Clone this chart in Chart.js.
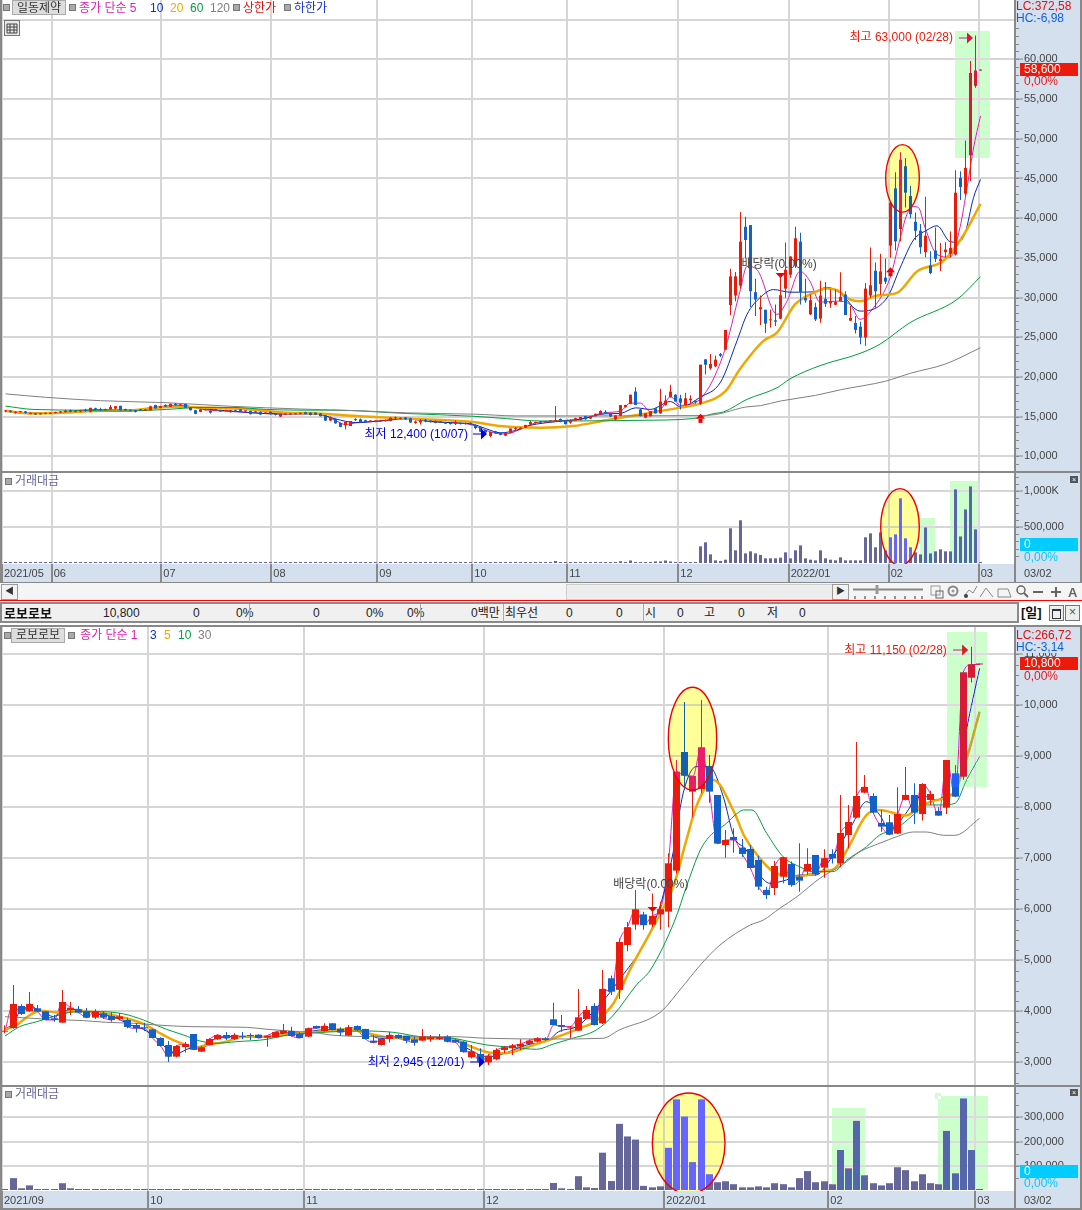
<!DOCTYPE html>
<html lang="ko">
<head>
<meta charset="utf-8">
<title>일동제약 / 로보로보</title>
<script src="https://cdn.jsdelivr.net/npm/chart.js@4/dist/chart.umd.min.js"></script>
<style>
html,body{margin:0;padding:0;background:#fff;width:1082px;height:1210px;overflow:hidden}
body{position:relative;font:12px "Liberation Sans","Noto Sans CJK KR",sans-serif;color:#333}
canvas{position:absolute;left:0;z-index:1}
.a{position:absolute;z-index:2;white-space:nowrap;line-height:13px}
.b{position:absolute;z-index:0}
.sq{position:absolute;z-index:2;width:5px;height:5px;background:#aaa;border:1px solid #777}
.btn{position:absolute;z-index:2;background:#ddd;border:1px solid #aaa;text-align:center;line-height:13px;height:13px;box-sizing:content-box}
.l{position:absolute;z-index:3;background:#888}
.x{position:absolute;z-index:3;width:8px;height:7px;background:#555;color:#fff;font-size:7px;line-height:7px;text-align:center}
</style>
</head>
<body>
<!-- backgrounds -->
<div class="b" style="left:1015px;top:0;width:66px;height:583px;background:#d5e0ee"></div>
<div class="b" style="left:0;top:564px;width:1081px;height:19px;background:#d5e0ee"></div>
<div class="b" style="left:1015px;top:626px;width:66px;height:583px;background:#d5e0ee"></div>
<div class="b" style="left:0;top:1191px;width:1081px;height:18px;background:#d5e0ee"></div>

<canvas id="cPriceTop" width="1082" height="473" style="top:0"></canvas>
<canvas id="cVolTop" width="1082" height="110" style="top:473px"></canvas>
<canvas id="cPriceBot" width="1082" height="459" style="top:626px"></canvas>
<canvas id="cVolBot" width="1082" height="122" style="top:1086px"></canvas>

<!-- frame lines -->
<div class="l" style="left:0;top:0;width:2px;height:583px"></div>
<div class="l" style="left:1080px;top:0;width:2px;height:583px"></div>
<div class="l" style="left:0;top:471px;width:1082px;height:2px"></div>
<div class="l" style="left:0;top:582px;width:1082px;height:1px"></div>
<div class="l" style="left:1014px;top:564px;width:2px;height:19px"></div>
<div class="l" style="left:0;top:625px;width:1082px;height:2px"></div>
<div class="l" style="left:0;top:625px;width:2px;height:585px"></div>
<div class="l" style="left:1080px;top:625px;width:2px;height:585px"></div>
<div class="l" style="left:0;top:1085px;width:1082px;height:2px"></div>
<div class="l" style="left:0;top:1208px;width:1082px;height:2px"></div>
<div class="l" style="left:1014px;top:1191px;width:2px;height:18px"></div>

<!-- legend top -->
<span class="sq" style="left:3px;top:4px"></span>
<span class="btn" style="left:12px;top:0;width:52px;line-height:14px">일동제약</span>
<span class="sq" style="left:69px;top:4px"></span>
<span class="a" style="left:79px;top:2px;color:#e020b0">종가 단순 5</span>
<span class="a" style="left:150px;top:2px;color:#0830c8">10</span>
<span class="a" style="left:170px;top:2px;color:#f0a800">20</span>
<span class="a" style="left:190px;top:2px;color:#00a040">60</span>
<span class="a" style="left:210px;top:2px;color:#808080">120</span>
<span class="sq" style="left:233px;top:4px"></span>
<span class="a" style="left:243px;top:2px;color:#e01010">상한가</span>
<span class="sq" style="left:284px;top:4px"></span>
<span class="a" style="left:294px;top:2px;color:#1030d0">하한가</span>
<svg class="a" style="left:4px;top:20px" width="16" height="16"><rect x="0.5" y="0.5" width="15" height="15" fill="#e8e8e8" stroke="#777"/><path d="M3 4h10M3 7h10M3 10h10M3 13h10M3 4v9M6 4v9M10 4v9M13 4v9" stroke="#444" fill="none"/></svg>

<!-- right labels top -->
<div class="a" style="left:1016px;top:0;width:63px;height:12px;background:#d5e0ee;color:#e01010">LC:372,58</div>
<div class="a" style="left:1016px;top:12px;width:63px;height:14px;background:#d5e0ee;color:#1060d8">HC:-6,98</div>
<div class="a" style="left:1020px;top:63px;width:58px;height:13px;background:#eb1a0a;color:#fff;text-indent:4px">58,600</div>
<div class="a" style="left:1024px;top:75px;color:#e81818">0,00%</div>
<div class="x" style="left:1070px;top:476px">×</div>
<div class="a" style="left:1020px;top:538px;width:58px;height:13px;background:#00ccff;color:#fff;text-indent:4px">0</div>
<div class="a" style="left:1024px;top:551px;color:#00c8ff">0,00%</div>
<div class="a" style="left:1024px;top:567px;color:#444;font-size:11px">03/02</div>
<span class="sq" style="left:5px;top:478px"></span>
<span class="a" style="left:15px;top:475px;color:#666699">거래대금</span>

<!-- scroll / tool row -->
<div class="b" style="left:0;top:583px;width:1082px;height:17px;background:#f5f5f5"></div>
<div class="a" style="left:1px;top:584px;width:15px;height:14px;background:#f2f2f2;border:1px solid #999;text-align:center;font-size:9px">◀</div>
<div class="a" style="left:566px;top:584px;width:265px;height:14px;background:#ededed;border:1px solid #ccc"></div>
<div class="a" style="left:832px;top:584px;width:15px;height:14px;background:#f2f2f2;border:1px solid #999;text-align:center;font-size:9px">▶</div>
<svg class="a" style="left:852px;top:584px" width="230" height="16">
 <path d="M1 5.5H71" stroke="#888" stroke-width="2"/><path d="M25 1v9" stroke="#999" stroke-width="3"/>
 <path d="M3 12v3M13 12v3M23 12v3M33 12v3M43 12v3M53 12v3M63 12v3M70 12v3" stroke="#333"/>
 <rect x="79" y="2" width="9" height="9" fill="none" stroke="#999"/><rect x="84" y="7" width="7" height="7" fill="none" stroke="#666"/>
 <circle cx="101" cy="7" r="4.5" fill="none" stroke="#888" stroke-width="2"/><circle cx="101" cy="7" r="1.5" fill="#999"/>
 <path d="M112 12l5-6 4 3 4-7" fill="none" stroke="#888"/><circle cx="114" cy="12" r="2" fill="#444"/>
 <path d="M128 13l6-9 7 9" fill="none" stroke="#888"/><path d="M146 5h10l3 8h-13z" fill="none" stroke="#888"/>
 <circle cx="169" cy="6" r="4" fill="none" stroke="#666" stroke-width="1.5"/><path d="M172 9l4 4" stroke="#666" stroke-width="2"/>
 <path d="M181 8h10" stroke="#666" stroke-width="2"/><path d="M199 8h10M204 3v10" stroke="#666" stroke-width="2"/>
</svg>
<div class="a" style="left:1068px;top:586px;color:#666;font-weight:bold;font-size:13px">A</div>
<div class="a" style="left:0;top:600px;width:1082px;height:1px;background:#f00"></div>

<!-- quote row -->
<div class="b" style="left:0;top:602px;width:1019px;height:21px;background:#f0f0f0;border:2px solid #8a8a8a;box-sizing:border-box"></div>
<span class="a" style="left:4px;top:607px;font-weight:bold;font-size:13px;color:#111">로보로보</span>
<span class="a" style="left:103px;top:607px;color:#222">10,800</span>
<span class="a" style="left:193px;top:607px;color:#222">0</span>
<span class="a" style="left:236px;top:607px;color:#222">0%</span>
<span class="a" style="left:313px;top:607px;color:#222">0</span>
<span class="a" style="left:366px;top:607px;color:#222">0%</span>
<span class="a" style="left:407px;top:607px;color:#222">0%</span>
<span class="a" style="left:471px;top:607px;color:#222">0백만</span>
<span class="a" style="left:505px;top:607px;color:#222">최우선</span>
<span class="a" style="left:566px;top:607px;color:#222">0</span>
<span class="a" style="left:616px;top:607px;color:#222">0</span>
<span class="a" style="left:645px;top:607px;color:#222">시</span>
<span class="a" style="left:677px;top:607px;color:#222">0</span>
<span class="a" style="left:704px;top:607px;color:#222">고</span>
<span class="a" style="left:738px;top:607px;color:#222">0</span>
<span class="a" style="left:767px;top:607px;color:#222">저</span>
<span class="a" style="left:799px;top:607px;color:#222">0</span>
<span class="a" style="left:1021px;top:606px;font-weight:bold;font-size:13px;color:#111">[일]</span>
<div class="a" style="left:1049px;top:605px;width:15px;height:16px;border:1px solid #777;background:#eee;box-sizing:border-box"><div style="margin:3px 2px;height:7px;border:1px solid #333;border-top-width:2px"></div></div>
<div class="a" style="left:1065px;top:605px;width:15px;height:16px;border:1px solid #777;background:#eee;box-sizing:border-box;text-align:center;color:#555">×</div>
<div class="l" style="left:249px;top:604px;width:1px;height:18px;background:#aaa"></div>
<div class="l" style="left:420px;top:604px;width:1px;height:18px;background:#aaa"></div>
<div class="l" style="left:503px;top:604px;width:1px;height:18px;background:#aaa"></div>
<div class="l" style="left:643px;top:604px;width:1px;height:18px;background:#aaa"></div>

<!-- legend bottom -->
<span class="sq" style="left:4px;top:632px"></span>
<span class="btn" style="left:11px;top:628px;width:52px">로보로보</span>
<span class="sq" style="left:68px;top:632px"></span>
<span class="a" style="left:80px;top:629px;color:#e020b0">종가 단순 1</span>
<span class="a" style="left:150px;top:629px;color:#0830c8">3</span>
<span class="a" style="left:164px;top:629px;color:#f0a800">5</span>
<span class="a" style="left:178px;top:629px;color:#00a040">10</span>
<span class="a" style="left:198px;top:629px;color:#808080">30</span>

<!-- right labels bottom -->
<div class="a" style="left:1016px;top:629px;width:63px;height:13px;background:#d5e0ee;color:#e01010">LC:266,72</div>
<div class="a" style="left:1016px;top:641px;width:63px;height:12px;background:#d5e0ee;color:#1060d8">HC:-3,14</div>
<div class="a" style="left:1020px;top:657px;width:58px;height:13px;background:#eb1a0a;color:#fff;text-indent:4px">10,800</div>
<div class="a" style="left:1024px;top:670px;color:#e81818">0,00%</div>
<div class="x" style="left:1070px;top:1089px">×</div>
<div class="a" style="left:1020px;top:1165px;width:58px;height:13px;background:#00ccff;color:#fff;text-indent:4px">0</div>
<div class="a" style="left:1024px;top:1177px;color:#00c8ff">0,00%</div>
<div class="a" style="left:1024px;top:1194px;color:#444;font-size:11px">03/02</div>
<span class="sq" style="left:5px;top:1091px"></span>
<span class="a" style="left:15px;top:1088px;color:#666699">거래대금</span>

<script>
/* ---------- 일동제약 : daily open, high, low, close ---------- */
const topCandles = [
[15650,15800,15550,15700],[15750,15800,15500,15600],[15480,15650,15350,15550],[15550,15700,15500,15620],[15650,15700,15400,15450],
[15350,15500,15300,15420],[15420,15450,15200,15280],[15300,15450,15250,15400],[15350,15480,15300,15430],[15350,15500,15300,15450],
[15450,15600,15400,15550],[15500,15700,15450,15620],[15550,15850,15500,15750],[15800,15900,15550,15620],[15680,15800,15550,15600],
[15650,15780,15550,15760],[15850,16000,15600,15700],[15600,16120,15550,16100],[16050,16120,15800,15900],[15950,16100,15700,15820],
[15820,16000,15750,15960],[15900,16450,15850,16200],[16000,16320,15900,16300],[16350,16360,15750,15800],[15950,16000,15700,15800],
[15850,15900,15650,15750],[15800,15850,15500,15600],[15900,15950,15700,15750],[15750,15950,15700,15900],[15800,16350,15750,16300],
[16450,16500,16000,16050],[16100,16350,16050,16300],[16450,16550,16200,16250],[16250,16650,16200,16600],[16600,16700,16400,16450],
[16400,16550,16350,16500],[16580,16600,16100,16120],[16150,16180,15780,15800],[15800,15850,15300,15350],[15600,15950,15550,15900],
[15800,16000,15750,15950],[15700,15750,15400,15500],[15800,15950,15750,15900],[15800,15850,15600,15650],[15700,15850,15650,15800],
[15550,15820,15500,15800],[15800,15850,15550,15600],[15900,15950,15650,15700],[15650,15750,15550,15700],[15700,15750,15250,15300],
[15650,15700,15450,15500],[15600,15650,15200,15250],[15400,15550,15350,15500],[15600,15650,15250,15300],[15400,15450,15150,15200],
[15000,15380,14950,15350],[15250,15400,15200,15380],[15280,15420,15230,15400],[15300,15450,15250,15420],[15350,15500,15300,15450],
[15550,15600,15250,15300],[15500,15550,15150,15200],[15500,15550,15200,15250],[15400,15450,15000,15050],[15150,15200,14450,14500],
[14500,15000,14400,14950],[14700,14750,14100,14150],[14200,14250,13650,13700],[13890,14350,13380,14315],[13805,14445,13805,14445],
[14550,14800,14450,14650],[14650,14750,14250,14300],[14530,14600,14220,14270],[14380,14530,14300,14480],[14380,14520,14300,14480],
[14420,14550,14350,14500],[14420,14620,14380,14560],[14445,14870,14420,14870],[14780,15000,14700,14900],[14700,14880,14650,14850],
[14900,14950,14600,14650],[14800,14850,14220,14250],[14200,14500,14100,14380],[14250,14700,14000,14500],[14600,14700,14300,14400],
[14500,14550,14250,14300],[14450,14500,14150,14200],[14400,14450,14200,14250],[14300,14350,14050,14100],[14250,14300,14000,14050],
[14100,14550,13950,14300],[14200,14250,14000,14050],[14200,14250,14000,14050],[14200,14250,13900,14000],[13950,14000,13400,13550],
[13700,13750,13050,13100],[13300,13350,12950,13000],[12550,13100,12400,13050],[13150,13200,12850,12900],[12950,13000,12650,12700],
[12600,12950,12550,12950],[12950,13500,12900,13500],[13450,13700,13200,13550],[13450,13650,13400,13600],[13600,13950,13550,13950],
[14000,14450,13900,14300],[14200,14350,14100,14300],[14350,14400,14200,14250],[14250,14400,14200,14350],[14400,14520,14350,14480],
[14400,16320,14350,14550],[14700,14750,14300,14350],[14500,14550,14000,14050],[14250,14650,14100,14550],[14500,14850,14450,14800],
[14550,14950,14500,14950],[15050,15100,14600,14650],[14750,15050,14700,15000],[15050,15400,15000,15350],[15300,15800,15250,15700],
[15600,15800,15350,15400],[15400,15450,14950,15000],[14650,15150,14500,15150],[15100,16450,15050,16450],[16200,16500,16150,16450],
[16600,17750,16550,17750],[18150,18700,16450,16450],[15900,15950,15050,15050],[14870,15400,14800,15400],[15040,15700,15000,15700],
[16050,16100,15400,15400],[15400,18500,15350,16900],[16450,17700,16400,17000],[17450,19000,17400,18150],[17750,17800,16900,16900],
[17300,17750,15900,16750],[16450,18000,16400,17300],[17050,17700,16700,17250],[17000,17100,16600,16800],[16625,21540,16500,21540],
[22210,22210,20290,21540],[21080,22875,20915,21625],[21335,22670,21210,22170],[22875,23000,22500,22670],[23420,25920,23420,25920],
[29040,33625,27790,32670],[30250,33210,29540,32670],[31500,40790,31125,37040],[38920,40170,34960,37250],[39125,39125,28790,30790],
[30670,32375,27670,29750],[28500,30250,26540,28790],[28460,28460,25540,26710],[27125,28500,26210,27210],[27125,29125,26420,26960],
[27335,33000,27250,30290],[31125,36920,29960,33500],[32875,35170,32500,35170],[34040,38920,33710,37460],[37040,38170,29125,30710],
[29960,32375,29335,29625],[27875,30375,27790,29670],[28790,29335,27040,27250],[27335,32125,26830,30250],[29835,31960,28790,29210],
[29250,31000,28710,29540],[29085,31000,29040,29420],[29540,33170,29540,30085],[30375,30790,27790,27790],[27085,28920,27040,27420],
[26790,27670,25460,25920],[26335,26960,24125,24960],[24960,31830,23920,31125],[30250,36290,29960,31540],[33375,34420,28700,30790],
[31710,35500,30375,33290],[32500,34875,31700,32000],[36540,41960,35000,41960],[43750,45790,35920,37080],[38625,48290,37080,47375],
[46540,47580,41330,43210],[42790,44040,40000,40500],[39540,40710,37250,38420],[38420,39250,35500,36330],[35710,42710,35080,37790],
[34040,35830,32920,33080],[35920,38830,34460,34875],[34580,36875,33330,34830],[35710,36960,35000,36040],[35500,38330,35080,36250],
[35420,46040,35290,43210],[45080,45920,42290,43920],[43080,49790,42790,46330],[47920,59790,44670,58290],[56670,63000,56420,58600],
[58600,58600,58600,58600]
];
const topVolume = [
2000,2000,2000,2000,2000,2000,2000,2000,2000,2000,2000,2000,2000,2000,2000,2000,2000,2000,2000,2000,
2000,2000,2000,2000,2000,2000,2000,2000,2000,2000,2000,2000,2000,2000,2000,2000,2000,2000,2000,2000,
2000,2000,2000,2000,2000,2000,2000,2000,2000,2000,2000,2000,2000,2000,2000,2000,2000,2000,2000,2000,
2000,2000,2000,2000,2000,2000,2000,2000,2000,2000,2000,2000,2000,2000,2000,2000,2000,2000,2000,2000,
2000,2000,2000,2000,2000,2000,2000,2000,2000,2000,2000,2000,2000,2000,2000,2000,2000,2000,2000,2000,
2000,2000,2000,2000,2000,2000,2000,2000,2000,2000,28000,2000,2000,2000,2000,2000,2000,2000,2000,2000,
2000,2000,2000,25000,15000,35000,2000,2000,2000,2000,22000,22000,35000,22000,2000,2000,2000,2000,2000,
231000,287000,120000,37000,28000,46000,482000,176000,593000,134000,162000,134000,111000,65000,65000,65000,74000,148000,65000,176000,
245000,65000,46000,37000,176000,65000,46000,37000,79000,37000,37000,37000,37000,357000,412000,218000,426000,176000,357000,398000,
898000,343000,218000,148000,120000,495000,134000,162000,190000,162000,162000,1023000,370000,745000,1065000,468000,2000
];
/* moving averages: [day index, value] */
const topMA5 = [[0,15650],[5,15400],[10,15450],[15,15800],[20,15900],[25,15800],[30,16200],[35,16450],[40,15850],[45,15650],[50,15450],[55,15300],[60,15350],[63,15300],[66,14500],[68,14000],[70,14200],[75,14450],[80,14800],[85,14350],[90,14200],[93,14000],[96,13300],[98,12900],[100,12800],[103,13400],[106,14200],[110,14450],[115,14700],[120,15500],[123,15700],[125,16700],[127,16700],[129,15600],[131,15900],[133,17500],[135,16417],[139,17250],[143.6,22875],[146.9,30790],[148.3,33920],[150.3,33500],[154.3,27875],[156.3,29540],[158.9,33290],[160.9,32040],[162.9,29420],[166.3,29540],[168.9,29125],[170.9,27250],[173.6,28710],[176.9,32460],[178.9,37375],[180.3,40500],[181.6,41460],[182.6,41330],[183.9,38830],[186.3,35420],[188.9,35080],[190.9,38830],[192.3,43830],[193.6,48830],[195,52875]];
const topMA10 = [[0,15700],[5,15450],[10,15450],[15,15700],[20,15850],[26,15800],[30,16100],[35,16350],[40,15950],[45,15700],[50,15450],[55,15350],[60,15350],[63,15250],[66,14700],[70,14250],[75,14450],[80,14700],[85,14400],[90,14200],[93,14100],[96,13500],[99,12950],[102,13250],[105,13900],[110,14350],[115,14650],[120,15350],[123,15400],[126,16100],[129,15900],[133,16900],[135,16210],[139,17460],[143,19330],[146.3,24540],[148.3,27875],[151,30040],[153.6,31000],[156.9,30670],[161.6,30710],[164.3,31290],[166.9,30585],[170.9,28290],[176.3,29960],[178.9,33710],[181.6,37250],[184.3,38500],[186.3,39040],[188.9,37040],[190.3,36960],[191.9,38080],[193.6,42580],[195,44875]];
const topMA20 = [[0,15725],[5.5,15385],[12.2,15510],[18.9,15725],[25.5,15810],[33.5,16240],[38.9,16150],[48.9,15900],[55.5,15510],[62.2,15385],[70.9,15040],[80.2,14745],[93.5,14315],[98.9,13805],[106.9,13590],[113.5,13805],[120.2,14530],[126.9,15255],[134.9,16125],[139,16625],[144,18210],[146.9,21000],[151.6,24540],[154.3,25580],[157.9,29125],[161.6,30585],[164.3,31125],[166.3,30920],[168.9,29750],[170.9,29540],[174.3,30250],[178.3,30585],[182.3,33290],[187.6,34625],[191.6,37875],[195,41800]];
const topMA60 = [[0,16320],[5.5,15900],[15.5,15800],[22.2,15680],[32.2,15900],[38.9,16150],[45.5,16150],[52.2,15900],[58.9,15810],[65.5,15810],[80.2,15385],[93.5,15040],[100.2,14745],[106.9,14445],[113.5,14445],[126.9,14530],[137.6,14750],[141.6,15375],[143.6,15580],[148.3,17170],[154.3,18625],[156.9,19750],[162.9,21417],[170.9,22960],[174.9,24125],[180.9,26834],[190.3,29750],[195,32630]];
const topMA120 = [[0,17860],[8,17430],[19,17000],[32,16750],[45,16300],[59,15950],[71,15726],[80,15470],[94,15300],[102,15085],[112,15085],[139,15125],[142,15250],[144,15540],[148,16200],[151,16375],[155,16960],[162,17670],[167,18375],[176,19460],[181,20460],[188,21625],[195,23670]];
const topPriceTicks = [10000,15000,20000,25000,30000,35000,40000,45000,50000,55000,60000,65000];
const topVolTicks = [500000,1000000];
const topMonthTicks = [-0.7,9.23,31.17,53.17,74.37,93.36,112.36,134.57,156.63,176.63,194.63];
const topMonthLabels = ['2021/05','06','07','08','09','10','11','12','2022/01','02','03'];

/* ---------- 로보로보 : daily open, high, low, close ---------- */
const botCandles = [
[3600,3725,3569,3620],[3673,4516,3660,4144],[4104,4137,3928,3948],[4000,4379,3993,4144],[4059,4124,3980,3993],
[4000,4000,3830,3830],[3863,3928,3797,3830],[3778,4418,3778,4183],[4026,4183,3928,4072],[4026,4105,3961,3974],
[4000,4065,3863,3876],[3876,4039,3850,4000],[3961,4000,3850,3876],[3908,3980,3797,3830],[3850,3960,3820,3900],
[3830,3876,3667,3693],[3732,3765,3582,3667],[3686,3778,3614,3667],[3647,3660,3470,3477],[3477,3490,3310,3320],
[3340,3418,3007,3111],[3111,3340,3100,3320],[3300,3400,3190,3360],[3555,3555,3240,3248],[3209,3320,3200,3294],
[3340,3470,3330,3457],[3450,3550,3440,3536],[3536,3595,3438,3471],[3457,3569,3438,3536],[3520,3595,3450,3500],
[3536,3569,3438,3516],[3542,3550,3470,3477],[3484,3523,3307,3523],[3490,3600,3480,3595],[3575,3752,3555,3620],
[3614,3699,3503,3516],[3555,3590,3470,3477],[3503,3680,3495,3667],[3712,3720,3660,3667],[3614,3765,3601,3712],
[3765,3765,3625,3634],[3654,3686,3516,3588],[3523,3732,3516,3686],[3712,3720,3620,3634],[3654,3660,3450,3457],
[3425,3536,3373,3386],[3340,3470,3330,3457],[3457,3601,3386,3536],[3536,3550,3460,3471],[3523,3523,3373,3425],
[3451,3503,3327,3386],[3425,3654,3418,3503],[3451,3536,3405,3490],[3457,3555,3438,3490],[3503,3530,3395,3405],
[3438,3450,3385,3392],[3405,3415,3190,3203],[3098,3340,3078,3209],[3163,3275,2980,3013],[3000,3163,2945,3131],
[3059,3275,3040,3242],[3242,3320,3176,3294],[3275,3360,3144,3327],[3307,3451,3242,3360],[3360,3451,3340,3425],
[3405,3490,3395,3471],[3471,3490,3425,3438],[3843,4170,3725,3732],[3732,3928,3601,3699],[3680,3712,3471,3700],
[3621,4438,3614,3882],[3850,4105,3843,4026],[4105,4157,3725,3732],[3765,4810,3752,4438],[4647,4700,4320,4385],
[4420,5430,4240,5360],[5300,5750,5180,5650],[5700,6380,5600,6000],[5900,5950,5600,5690],[5700,6310,5650,5870],
[5900,6150,5600,6000],[5954,7100,5650,6902],[6758,8930,6700,8700],[9085,10065,8340,8620],[8307,8614,7804,8614],
[8360,10105,8275,9176],[8810,9026,8090,8307],[8242,8242,7288,7288],[7261,7555,7013,7359],[7418,7590,7111,7359],
[7209,7380,7030,7085],[7183,7261,6804,6810],[6967,7050,6380,6444],[6380,6444,6200,6281],[6418,6948,6281,6850],
[6640,7020,6510,7020],[6889,6935,6444,6477],[6640,7294,6346,6562],[6739,7196,6673,6889],[7065,7065,6660,6693],
[6817,7176,6621,7000],[7085,7176,6900,7000],[6902,8242,6823,7497],[7457,8046,7196,7712],[7797,9281,7784,8222],
[8288,8634,8275,8399],[8222,8275,7882,7895],[7693,7948,7523,7621],[7706,7850,7457,7464],[7484,8392,7477,7869],
[8144,8791,8131,8242],[8242,8471,7673,7895],[7869,8470,7739,8457],[8144,8327,8046,8261],[7928,8000,7830,7837],
[7993,8928,7869,8928],[8667,8830,8200,8209],[8601,10647,8540,10647],[10542,11150,10445,10800],[10800,10800,10800,10800]
];
const botVolume = [
1500,49000,7000,19000,1500,1500,1500,28000,7000,1500,1500,1500,1500,1500,1500,1500,1500,1500,1500,1500,
1500,1500,1500,1500,1500,1500,1500,1500,1500,1500,1500,1500,1500,1500,1500,1500,1500,1500,1500,1500,
1500,1500,1500,1500,1500,1500,1500,1500,1500,1500,1500,1500,1500,1500,1500,1500,1500,1500,1500,1500,
1500,1500,1500,1500,1500,1500,1500,29000,7000,3000,57000,11000,8000,154000,37000,273000,221000,208000,17000,11000,
15000,174000,374000,303000,115000,374000,65000,32000,36000,24000,11000,11000,15000,11000,28000,24000,11000,49000,78000,32000,
36000,24000,165000,90000,286000,61000,28000,19000,28000,94000,82000,36000,65000,28000,24000,244000,69000,378000,165000,1500
];
const botMA1 = botCandles.map((c, i) => [i, c[3]]);
const botMA3 = [[0,3647],[1,3765],[1.8,3993],[3,4078],[4.7,3993],[5.9,3895],[7,3993],[8.8,4039],[10.8,3961],[13.2,3895],[15.3,3732],[16.9,3647],[18.5,3471],[19.7,3275],[21,3176],[22.6,3275],[24.2,3294],[25.8,3471],[28,3503],[32,3503],[34,3569],[36,3582],[38.5,3634],[41,3647],[43.3,3634],[45.8,3471],[49,3471],[54.7,3438],[56.8,3242],[58.8,3111],[60.4,3144],[63.7,3340],[66.4,3438],[67.6,3601],[69.8,3699],[72.2,4059],[74.7,4549],[79.4,5791],[81.4,6967],[82.8,8275],[84.4,8797],[86,8797],[87.7,8209],[89,7425],[90.5,7163],[92,6706],[93.4,6510],[95.4,6575],[97,6673],[99,6673],[101,7033],[103.3,7621],[105.2,8111],[106.8,7850],[108,7555],[110,7882],[111.3,8176],[112.5,8209],[113.8,8144],[115,8242],[116.2,8340],[117.4,9516],[119,10726]];
const botMA5 = [[0,3634],[1.4,3732],[3.05,3928],[4.3,4013],[6.5,3974],[8.8,4007],[11.6,3974],[14,3895],[16.9,3752],[19.3,3536],[21,3405],[23.4,3294],[24.6,3340],[27,3405],[29,3503],[32,3503],[36,3569],[38.5,3601],[41.7,3647],[43.8,3588],[46.2,3503],[49.5,3471],[54.7,3457],[56.4,3340],[59.2,3190],[60.8,3176],[64.9,3360],[67,3471],[69.8,3647],[72.2,3817],[74.3,4157],[76.3,4810],[79.6,5791],[81.6,6444],[83.2,7360],[84.4,8013],[86.5,8536],[89,7915],[90.2,7457],[92,7033],[93.8,6739],[96.7,6640],[99.5,6739],[101.3,6800],[102.8,7163],[105.2,7850],[106.8,7948],[110,7837],[112,8046],[113.8,8144],[115.8,8275],[117.6,9059],[119,9876]];
const botMA10 = [[0,3516],[1.8,3699],[3.9,3797],[5.9,3895],[8.8,3993],[11.6,3993],[14.5,3948],[16.9,3830],[19.7,3647],[21.8,3536],[23.8,3418],[25.8,3373],[28.3,3405],[32,3451],[34,3523],[36.8,3569],[38.5,3588],[40.5,3601],[43.8,3614],[47.4,3588],[50.7,3503],[54.7,3471],[56.4,3418],[58.8,3340],[62,3294],[64.9,3255],[67,3360],[69,3457],[72.2,3634],[74.3,3928],[77.1,4516],[78.8,4810],[81.8,5791],[83.2,6444],[84.9,7163],[86,7425],[88.1,7686],[89.3,7869],[90.2,7948],[91.2,7948],[93,7490],[95,7033],[97,6837],[98.7,6739],[101.1,6739],[102.8,6967],[105.2,7229],[106.8,7457],[108.7,7569],[110.9,7850],[112.5,8046],[114.2,8046],[116,8078],[117.4,8536],[119,8993]];
const botMA30 = [[0,3895],[5.5,3843],[9.6,3817],[12.4,3784],[15.7,3765],[18.5,3732],[22.6,3699],[29.5,3686],[32,3647],[36,3601],[38.5,3569],[39.7,3536],[46.6,3503],[54.7,3503],[58.8,3471],[67,3457],[73,3471],[75,3634],[80,3980],[82.4,4418],[84.9,4908],[87.3,5300],[91,5692],[92.6,5790],[94.6,6020],[96.7,6248],[99.5,6608],[102.2,6869],[104.4,7131],[106.8,7294],[108.9,7425],[110.9,7516],[112.5,7516],[114.6,7451],[116,7451],[119,7784]];
const botPriceTicks = [3000,4000,5000,6000,7000,8000,9000,10000,11000];
const botVolTicks = [100000,200000,300000];
const botMonthTicks = [-0.366,17.5,36.55,58.52,80.5,100.53,118.47];
const botMonthLabels = ['2021/09','10','11','12','2022/01','02','03'];

/* ---------- colours ---------- */
const RED='#eb1a0a', BLUE='#1360c8', VOL='#666699', GRID='#d6d6d6', AXIS='#8a8a8a';
const MAG='#e020b0', NAVY='#0a28b8', ORG='#f0a800', GRN='#00a040', GRY='#808080';
const TICKFONT={family:'"Liberation Sans",sans-serif',size:11};
const NOTEFONT='12px "Liberation Sans","Noto Sans CJK KR",sans-serif';

/* ---------- annotations in data units ---------- */
const topNotes=[{t:'최고 63,000 (02/28)',x:189.5,v:62690,c:'#eb1a0a',a:'right'},{t:'최저 12,400 (10/07)',x:92.5,v:12778,c:'#0000e0',a:'right'},{t:'배당락(0.00%)',x:147.2,v:34154,c:'#444',a:'left'}];
const topArrows=[{k:'right',x0:190.7,x1:193.5,v:62690,c:'#eb1a0a'},{k:'right',x0:93.5,x1:96.3,v:12778,c:'#0000e0'},{k:'down',x:155,v:33100,c:'#f00000'},{k:'up',x:139,v:15340,c:'#f00000'},{k:'up',x:177,v:33820,c:'#f00000'}];
const topHi=[{k:'rect',x0:189.9,x1:196.9,v1:63573,v0:47576},{k:'ell',x0:176.04,x1:182.76,v1:49268,v0:40758}];
const topVolHi=[{k:'ell',x0:175.04,x1:182.76,v1:1032900,v0:-32400},{k:'rect',x0:182.9,x1:185.9,v1:620000,v0:0},{k:'rect',x0:188.9,x1:194.9,v1:1134000,v0:0}];
const botNotes=[{t:'최고 11,150 (02/28)',x:115,v:11075,c:'#eb1a0a',a:'right'},{t:'최저 2,945 (12/01)',x:56.1,v:3000,c:'#0000e0',a:'right'},{t:'배당락(0.00%)',x:74.27,v:6476,c:'#444',a:'left'}];
const botArrows=[{k:'right',x0:115.75,x1:117.6,v:11075,c:'#eb1a0a'},{k:'right',x0:56.8,x1:58.6,v:3000,c:'#0000e0'},{k:'down',x:79,v:6045,c:'#f00000'}];
const botHi=[{k:'rect',x0:114.98,x1:119.96,v1:11437,v0:8404},{k:'ell',x0:80.99,x1:86.9,v1:10353,v0:8339}];
const botVolHi=[{k:'ell',x0:79.04,x1:87.91,v1:400000,v0:-15400},{k:'rect',x0:100.98,x1:105,v1:338700,v0:0},{k:'rect',x0:113.9,x1:120.02,v1:388700,v0:0},{k:'rect',x0:113.55,x1:114.3,v1:401000,v0:376000}];

/* ---------- helpers ---------- */
function paintArrow(ctx,a,xs,ys){
  ctx.fillStyle=a.c;ctx.strokeStyle=a.c;ctx.lineWidth=1;
  if(a.k==='right'){
    const x0=xs.getPixelForValue(a.x0),x1=xs.getPixelForValue(a.x1),y=Math.round(ys.getPixelForValue(a.v));
    ctx.fillRect(x0,y-.5,x1-x0-4,1);
    ctx.beginPath();ctx.moveTo(x1,y);ctx.lineTo(x1-6,y-5.5);ctx.lineTo(x1-6,y+5.5);ctx.closePath();ctx.fill();
  }else if(a.k==='down'){
    const x=Math.floor(xs.getPixelForValue(a.x))+.5,y=ys.getPixelForValue(a.v);
    ctx.beginPath();ctx.moveTo(x-5,y);ctx.lineTo(x+5,y);ctx.lineTo(x,y+5);ctx.closePath();ctx.fill();
  }else{
    const x=Math.floor(xs.getPixelForValue(a.x))+.5,y=ys.getPixelForValue(a.v);
    ctx.beginPath();ctx.moveTo(x,y);ctx.lineTo(x+4.5,y+5);ctx.lineTo(x-4.5,y+5);ctx.closePath();ctx.fill();
    ctx.fillRect(x-2,y+5,4,4);
  }
}
function xorShapes(chart,shapes){
  const ctx=chart.ctx,A=chart.chartArea,xs=chart.scales.x,ys=chart.scales.y;
  shapes.forEach(s=>{
    const L=xs.getPixelForValue(s.x0),R=xs.getPixelForValue(s.x1),T=ys.getPixelForValue(s.v1),B=ys.getPixelForValue(s.v0);
    const l=Math.max(Math.round(L),Math.floor(A.left)),r=Math.min(Math.round(R),Math.ceil(A.right));
    const t=Math.max(Math.round(T),Math.floor(A.top)),b=Math.min(Math.round(B),Math.ceil(A.bottom));
    if(r<=l||b<=t)return;
    const img=ctx.getImageData(l,t,r-l,b-t),d=img.data,w=r-l;
    const cx=(L+R)/2,cy=(T+B)/2,rx=(R-L)/2,ry=(B-T)/2;
    const mask=s.k==='rect'?[51,0,51]:[0,0,102];
    for(let yy=0;yy<b-t;yy++)for(let xx=0;xx<w;xx++){
      if(s.k==='ell'){const u=(xx+l+.5-cx)/rx,v=(yy+t+.5-cy)/ry;if(u*u+v*v>1)continue;}
      const p=(yy*w+xx)*4;d[p]^=mask[0];d[p+1]^=mask[1];d[p+2]^=mask[2];
    }
    ctx.putImageData(img,l,t);
    if(s.k==='ell'){
      ctx.save();ctx.beginPath();ctx.rect(A.left,A.top,A.right-A.left,A.bottom-A.top);ctx.clip();
      ctx.strokeStyle='#f00000';ctx.lineWidth=1.4;ctx.beginPath();ctx.ellipse(cx,cy,rx,ry,0,0,Math.PI*2);ctx.stroke();ctx.restore();
    }
  });
}
function panePlugin(o){return{
  id:'pane',
  beforeDraw(c){const A=c.chartArea;c.ctx.save();c.ctx.fillStyle='#fff';c.ctx.fillRect(A.left,A.top,A.right-A.left,A.bottom-A.top);c.ctx.restore();},
  afterDatasetsUpdate(c){c.data.datasets.forEach((d,i)=>{if(d.type==='line')return;c.getDatasetMeta(i).data.forEach(el=>{el.x=Math.floor(el.x)+.5;});});},
  afterDatasetsDraw(c){
    const ctx=c.ctx,A=c.chartArea,xs=c.scales.x,ys=c.scales.y;
    ctx.save();ctx.beginPath();ctx.rect(A.left,A.top,A.right-A.left,A.bottom-A.top);ctx.clip();
    ctx.font=NOTEFONT;ctx.textBaseline='middle';
    (o.notes||[]).forEach(n=>{ctx.fillStyle=n.c;ctx.textAlign=n.a;ctx.fillText(n.t,xs.getPixelForValue(n.x),ys.getPixelForValue(n.v));});
    (o.arrows||[]).forEach(a=>paintArrow(ctx,a,xs,ys));
    ctx.restore();
    xorShapes(c,o.hi||[]);
  },
  afterDraw(c){
    const ctx=c.ctx,ys=c.scales.y,A=c.chartArea;
    ctx.save();ctx.strokeStyle=AXIS;ctx.lineWidth=1;
    for(let v=o.minorFrom;v<=ys.max;v+=o.minorStep){
      const y=Math.round(ys.getPixelForValue(v))+.5;
      if(y<A.top||y>A.bottom)continue;
      ctx.beginPath();ctx.moveTo(A.right,y);ctx.lineTo(A.right+4,y);ctx.stroke();
    }
    ctx.restore();
  }
};}
function line(arr,color,w){return{type:'line',data:arr.map(p=>({x:p[0],y:p[1]})),borderColor:color,borderWidth:w,pointRadius:0,cubicInterpolationMode:'monotone',order:5,fill:false,clip:true};}
function candleSets(rows,bw){
  const col=rows.map(r=>r[3]>=r[0]?RED:BLUE);
  return[
    {type:'bar',data:rows.map((r,i)=>({x:i,y:[r[2],r[1]]})),backgroundColor:col,barThickness:1,grouped:false,order:2,inflateAmount:0,borderWidth:0,minBarLength:1},
    {type:'bar',data:rows.map((r,i)=>({x:i,y:[r[0],r[3]]})),backgroundColor:col,barThickness:bw,grouped:false,order:1,inflateAmount:0,borderWidth:0,minBarLength:1}
  ];
}
function axisY(min,max,ticks,label){return{
  type:'linear',position:'right',min,max,beginAtZero:false,
  afterBuildTicks:s=>{s.ticks=ticks.map(v=>({value:v}));},
  afterFit:s=>{s.width=67;s.paddingTop=0;s.paddingBottom=0;},
  grid:{color:GRID,lineWidth:2,tickColor:AXIS,tickWidth:1,tickLength:8},
  border:{display:true,color:AXIS,width:2},
  ticks:{color:'#444',font:TICKFONT,padding:1,autoSkip:false,callback:label}
};}
function axisX(min,max,ticks,labels,h){return{
  type:'linear',min,max,offset:false,
  afterBuildTicks:s=>{s.ticks=ticks.map(v=>({value:v}));},
  afterFit:s=>{s.height=h;s.paddingLeft=0;s.paddingRight=0;},
  grid:h?{offset:false,color:GRID,lineWidth:2,tickColor:AXIS,tickWidth:2,tickLength:h}:{offset:false,color:GRID,lineWidth:2,drawTicks:false},
  border:{display:false},
  ticks:h?{display:true,color:'#444',font:TICKFONT,align:'start',labelOffset:2,padding:3-h,autoSkip:false,maxRotation:0,minRotation:0,callback:(v,i)=>labels[i]}:{display:false,autoSkip:false}
};}
function build(id,sets,xAxis,yAxis,plug){
  return new Chart(document.getElementById(id).getContext('2d',{willReadFrequently:true}),{
    type:'bar',data:{datasets:sets},
    options:{responsive:false,animation:false,devicePixelRatio:1,
      layout:{autoPadding:false,padding:{left:2,right:0,top:0,bottom:0}},
      plugins:{legend:{display:false},tooltip:{enabled:false}},
      events:[],scales:{x:xAxis,y:yAxis}},
    plugins:[panePlugin(plug)]
  });
}
const num=v=>Number(v).toLocaleString('en-US');
const vlabel=v=>v>=1000000?num(v/1000)+'K':num(v);

/* ---------- the four panes ---------- */
build('cPriceTop',
  [...candleSets(topCandles,3),line(topMA120,GRY,1),line(topMA60,GRN,1),line(topMA20,ORG,2.5),line(topMA10,NAVY,1),line(topMA5,MAG,1)],
  axisX(-0.7,201.9,topMonthTicks,topMonthLabels,0),
  axisY(7890,67487,topPriceTicks,num),
  {notes:topNotes,arrows:topArrows,hi:topHi,minorFrom:8000,minorStep:1000});
build('cVolTop',
  [{type:'bar',data:topVolume.map((v,i)=>({x:i,y:v})),backgroundColor:VOL,barThickness:3,grouped:false,inflateAmount:0,borderWidth:0,minBarLength:1}],
  axisX(-0.7,201.9,topMonthTicks,topMonthLabels,19),
  axisY(-13889,1250000,topVolTicks,vlabel),
  {hi:topVolHi,minorFrom:100000,minorStep:100000});
build('cPriceBot',
  [...candleSets(botCandles,7),line(botMA30,GRY,1),line(botMA10,GRN,1),line(botMA5,ORG,2.5),line(botMA3,NAVY,1),line(botMA1,MAG,1)],
  axisX(-0.366,123.32,botMonthTicks,botMonthLabels,0),
  axisY(2555,11555,botPriceTicks,num),
  {notes:botNotes,arrows:botArrows,hi:botHi,minorFrom:2600,minorStep:200});
build('cVolBot',
  [{type:'bar',data:botVolume.map((v,i)=>({x:i,y:v})),backgroundColor:VOL,barThickness:7,grouped:false,inflateAmount:0,borderWidth:0,minBarLength:1}],
  axisX(-0.366,123.32,botMonthTicks,botMonthLabels,17),
  axisY(-4167,429167,botVolTicks,vlabel),
  {hi:botVolHi,minorFrom:50000,minorStep:50000});
</script>
</body>
</html>
